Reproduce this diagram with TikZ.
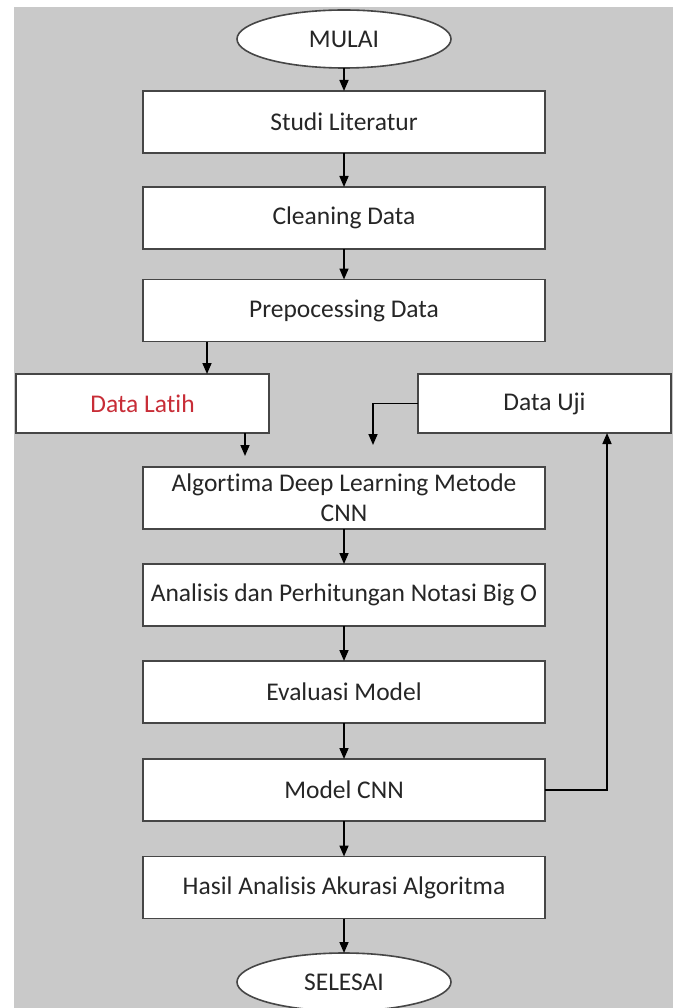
\documentclass[tikz,border=0pt]{standalone}
\usepackage{fontspec}
\setmainfont{Carlito}[Ligatures=NoCommon]
\usetikzlibrary{arrows.meta,shapes.geometric}
\definecolor{bggray}{RGB}{201,201,201}
\definecolor{boxline}{RGB}{70,70,70}
\definecolor{latihred}{RGB}{200,45,55}
\begin{document}
\begin{tikzpicture}[x=1pt,y=-1pt,inner sep=2pt,outer sep=0pt,line width=1.6pt,
>={Triangle[length=11pt,width=9pt]},
flowbox/.style={draw=boxline,fill=white,rectangle,minimum width=402pt,minimum height=62pt,font=\fontsize{25.5}{30}\selectfont,text=black!85},
sidebox/.style={flowbox,minimum width=253pt,minimum height=59pt},
terminal/.style={draw=boxline,fill=white,ellipse,minimum width=214pt,minimum height=58pt,font=\fontsize{25.5}{30}\selectfont,text=black!85}]

\useasboundingbox (0,0) rectangle (677,1008);
\fill[bggray] (14,7) rectangle (673,1008);

\draw (344,39) node[terminal] (mulai) {MULAI};
\draw (344,122) node[flowbox] (studi) {Studi Literatur};
\draw (344,218) node[flowbox] (clean) {Cleaning Data};
\draw (344,310.5) node[flowbox] (prep) {Prepocessing Data};
\draw (142.5,403.5) node[sidebox,text=latihred] (latih) {Data Latih};
\draw (544.5,403.5) node[sidebox] (uji) {Data Uji};
\draw (344,498) node[flowbox,align=center] (algo) {Algortima Deep Learning Metode\\CNN};
\draw (344,595) node[flowbox] (anal) {Analisis dan Perhitungan Notasi Big O};
\draw (344,692) node[flowbox] (eval) {Evaluasi Model};
\draw (344,790) node[flowbox] (model) {Model CNN};
\draw (344,887.5) node[flowbox] (hasil) {Hasil Analisis Akurasi Algoritma};
\draw (344,982) node[terminal] (selesai) {SELESAI};

\draw[->] (mulai) -- (studi);
\draw[->] (studi) -- (clean);
\draw[->] (clean) -- (prep);
\draw[->] ([xshift=-137pt]prep.south) -- ([xshift=-137pt]prep.south |- latih.north);
\draw[->,shorten >=11pt] ([xshift=102.5pt]latih.south) -- ([xshift=102.5pt]latih.south |- algo.north);
\draw[->,shorten >=22pt] (uji.west) -| ([xshift=29pt]algo.north);
\draw[->] (algo) -- (anal);
\draw[->] (anal) -- (eval);
\draw[->] (eval) -- (model);
\draw[->] (model) -- (hasil);
\draw[->] (hasil) -- (selesai);
\draw[->] (model.east) -| ([xshift=62.5pt]uji.south);
\end{tikzpicture}
\end{document}
